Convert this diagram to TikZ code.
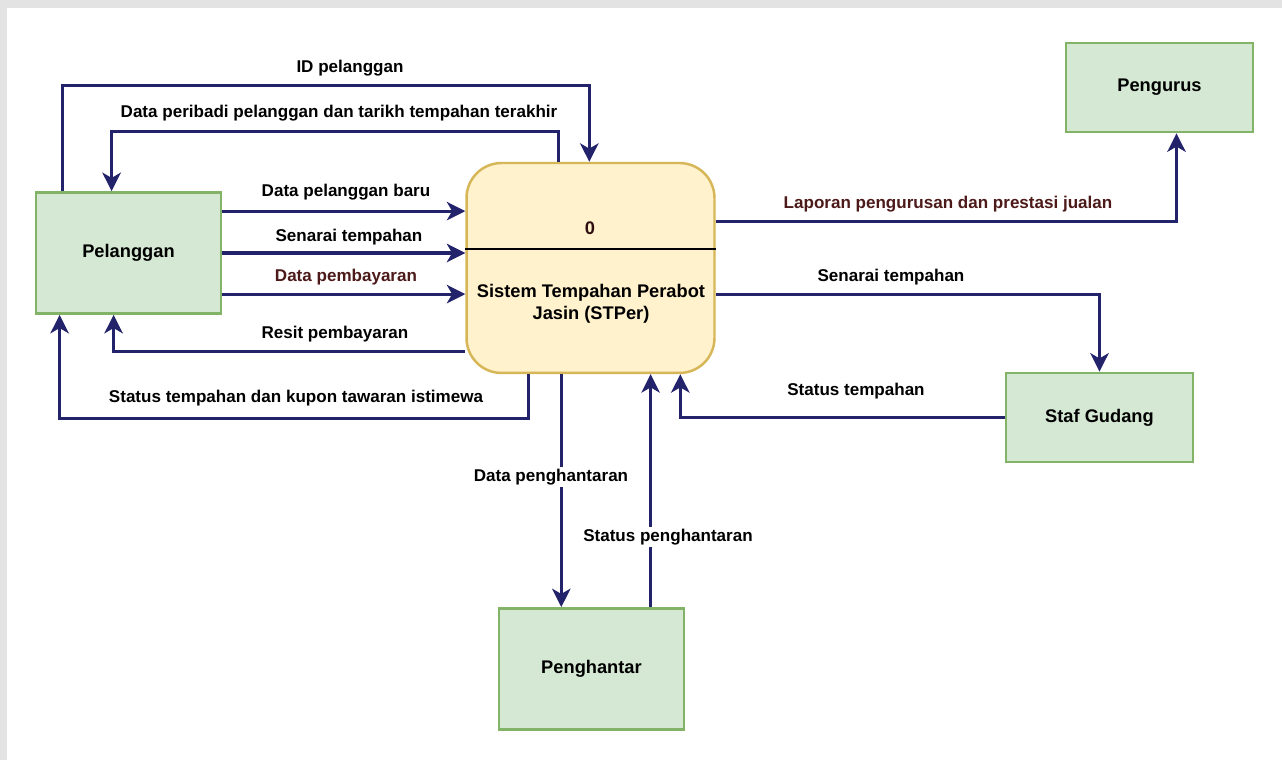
\documentclass[tikz,border=0pt]{standalone}
\usepackage{fontspec}
\setmainfont{Liberation Sans}
\usetikzlibrary{arrows.meta,positioning,calc}
\definecolor{flowblue}{HTML}{23236B}
\definecolor{entfill}{HTML}{D5E8D4}
\definecolor{entline}{HTML}{82B366}
\definecolor{procfill}{HTML}{FFF2CC}
\definecolor{procline}{HTML}{D6B656}
\definecolor{darkred}{HTML}{4D1A1A}

\begin{document}
\begin{tikzpicture}[x=0.02cm, y=-0.02cm,
    entity/.style={draw=entline, fill=entfill, line width=1.6pt, minimum width=3.7cm, minimum height=2.42cm, font=\fontsize{10.4}{12.5}\selectfont\bfseries},
    proc/.style={draw=procline, fill=procfill, line width=1.4pt, rounded corners=0.7cm, minimum width=4.96cm, minimum height=4.2cm},
    flow/.style={-{Stealth[length=10.5pt,width=10.5pt,inset=3pt]}, line width=1.6pt, draw=flowblue},
    lbl/.style={font=\fontsize{9.7}{11.5}\selectfont\bfseries, text=black, inner sep=1pt}
]
% background and page size
\fill[black!11] (0,0) rectangle (1282,760);
\fill[white] (7,8) rectangle (1282,760);
\useasboundingbox (0,0) rectangle (1282,760);

% entities and process
\node[entity] (pel) at (128.5,253) {Pelanggan};
\node[proc] (stp) at (590.5,268) {};
\node[entity, minimum width=3.74cm, minimum height=1.78cm] (urus) at (1159.5,87.5) {Pengurus};
\node[entity, minimum width=3.74cm, minimum height=1.78cm] (staf) at (1099.5,417.5) {Staf Gudang};
\node[entity] (hantar) at (591.5,669) {Penghantar};

\node[font=\fontsize{10.4}{12.5}\selectfont\bfseries, text=darkred!60!black] (pnum) at (590,228) {0};
\node[font=\fontsize{10.4}{12.5}\selectfont\bfseries, align=center] (pname) at (591,304) {Sistem Tempahan Perabot\\Jasin (STPer)};
\draw[line width=1.4pt] ($(stp.north west)+(0,87)$) -- ($(stp.north east)+(0,87)$);

% flows between Pelanggan and the system
\draw[flow] ($(pel.north west)+(28,0)$) -- ++(0,-106) -| ($(stp.north west)+(124,0)$);
\draw[flow] ($(stp.north west)+(93,0)$) -- ++(0,-30) -| ($(pel.north west)+(77,0)$);
\draw[flow] ($(pel.north east)+(0,20)$) coordinate (baru) -- (baru -| stp.west);
\draw[flow, line width=2pt] (pel.east) -- (pel.east -| stp.west);
\draw[flow] ($(pel.north east)+(0,103)$) coordinate (bayar) -- (bayar -| stp.west);
\draw[flow] ($(stp.north west)+(0,190)$) -| ($(pel.south west)+(79,0)$);
\draw[flow] ($(stp.south west)+(63,0)$) -- ++(0,44) -| ($(pel.south west)+(25,0)$);

% flows to the right side
\draw[flow] ($(stp.north east)+(0,60)$) -| ($(urus.south)+(17,0)$);
\draw[flow] ($(stp.north east)+(0,133)$) -| (staf.north);
\draw[flow] (staf.west) -| ($(stp.south west)+(215,0)$);

% flows with Penghantar
\draw[flow] ($(stp.south west)+(96,0)$) coordinate (dp) -- (dp |- hantar.north);
\draw[flow] ($(hantar.north west)+(153,0)$) coordinate (sp) -- (sp |- stp.south);

% labels
\node[lbl] (lid) at (350,68) {ID pelanggan};
\node[lbl] (lperibadi) at (339,113) {Data peribadi pelanggan dan tarikh tempahan terakhir};
\node[lbl] (lbaru) at (346,192) {Data pelanggan baru};
\node[lbl] (lsenarai) at (349,237) {Senarai tempahan};
\node[lbl, text=darkred] (lbayar) at (346,277) {Data pembayaran};
\node[lbl] (lresit) at (335,334) {Resit pembayaran};
\node[lbl] (lkupon) at (296,398) {Status tempahan dan kupon tawaran istimewa};
\node[lbl, text=darkred] (llapor) at (948,204) {Laporan pengurusan dan prestasi jualan};
\node[lbl] (lsenarai2) at (891,277) {Senarai tempahan};
\node[lbl] (lstatus) at (856,391) {Status tempahan};
\node[lbl, fill=white] (ldata) at (551,477) {Data penghantaran};
\node[lbl, fill=white] (lstatus2) at (668,537) {Status penghantaran};
\end{tikzpicture}
\end{document}
